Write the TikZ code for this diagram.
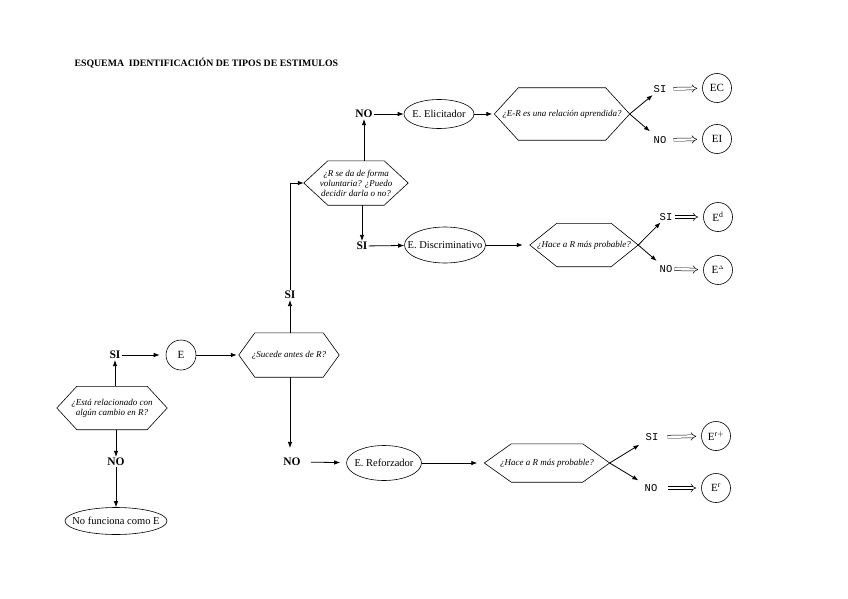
\documentclass[tikz,border=0pt]{standalone}
\usepackage{fontspec}
\setmainfont{Liberation Serif}
\setmonofont{Liberation Mono}
\usetikzlibrary{arrows.meta, positioning, calc, shapes.geometric}

\begin{document}
\begin{tikzpicture}[x=1pt, y=-1pt, font=\fontsize{9}{10}\selectfont,
  hex/.style={rectangle, inner sep=1pt, align=center, font=\fontsize{9}{10}\selectfont\itshape,
              append after command={\pgfextra{\draw[line width=0.6pt]
                (\tikzlastnode.west) -- ([xshift=#1]\tikzlastnode.north west)
                -- ([xshift=-#1]\tikzlastnode.north east) -- (\tikzlastnode.east)
                -- ([xshift=-#1]\tikzlastnode.south east) -- ([xshift=#1]\tikzlastnode.south west)
                -- cycle;}}},
  hex/.default=20pt,
  oval/.style={draw, line width=0.6pt, ellipse, inner xsep=-12pt, inner ysep=0pt, font=\fontsize{10.5}{11}\selectfont},
  circ/.style={draw, line width=0.6pt, circle, minimum size=29pt, inner sep=0pt, font=\fontsize{11}{12}\selectfont},
  big/.style={font=\fontsize{11.5}{12}\selectfont\bfseries, inner sep=1pt},
  sm/.style={font=\fontsize{10.5}{11}\selectfont\ttfamily, inner sep=1pt},
  a/.style={-{Latex[length=6pt, width=4.5pt]}, line width=0.8pt},
  dbl/.style={double, double distance=2.4pt, line width=0.5pt, -{Implies[length=5pt]}}]
  \useasboundingbox (0,0) rectangle (848,599);

  \node[anchor=west, font=\fontsize{9.8}{11}\selectfont\bfseries] (title) at (71,63)
        {ESQUEMA \ IDENTIFICACIÓN DE TIPOS DE ESTIMULOS};

  % first question
  \node[hex=20pt, minimum width=110pt, minimum height=43pt] (qrel) at (112,408)
        {¿Está relacionado con\\algún cambio en R?};
  \node[big] (siRel) at (115,355) {SI};
  \node[big] (noRel) at (116,462) {NO};
  \node[oval, minimum width=102pt, minimum height=27pt] (nofunc) at (116,521) {No funciona como E};
  \node[circ, minimum size=30pt] (estim) at (181,355) {E};

  \draw[a] (qrel.north -| siRel) -- (siRel.south);
  \draw[a] (qrel.south -| noRel) -- (noRel.north);
  \draw[a] (noRel) -- (nofunc);
  \draw[a, shorten >=6pt] (siRel) -- (estim);

  % before R?
  \node[hex=16pt, minimum width=100pt, minimum height=44pt] (qantes) at (289,355) {¿Sucede antes de R?};
  \node[big] (siAntes) at (290,295) {SI};
  \node[big] (noAntes) at (292,462) {NO};
  \draw[a, shorten >=2pt] (estim) -- (qantes);
  \draw[a] (qantes.north -| siAntes) -- (siAntes.south);
  \draw[a, shorten >=9pt] (qantes.south -| siAntes) -- (siAntes |- noAntes.north);

  % voluntary?
  \node[hex=24pt, minimum width=104pt, minimum height=44pt] (qvol) at (356,183)
        {¿R se da de forma\\voluntaria? ¿Puedo\\decidir darla o no?};
  \node[big] (noVol) at (364,114) {NO};
  \node[big] (siVol) at (362,246) {SI};
  \draw[a] (siAntes.north) |- (qvol.west);
  \draw[a] (qvol.north -| noVol) -- (noVol.south);
  \draw[a] (qvol.south -| siVol) -- (siVol.north);

  % elicitador branch
  \node[oval, minimum width=70pt, minimum height=29pt] (elic) at (439,114) {E. Elicitador};
  \node[hex=24pt, minimum width=135pt, minimum height=52pt] (qapr) at (562,114) {¿E-R es una relación aprendida?};
  \draw[a] (noVol) -- (elic);
  \draw[a, shorten >=2pt] (elic) -- (qapr);
  \node[sm] (siApr) at (660,89) {SI};
  \node[sm] (noApr) at (660,140) {NO};
  \node[circ] (EC) at (717,88) {EC};
  \node[circ] (EI) at (717,139) {EI};
  \draw[a, shorten >=2pt] (qapr.east) -- (siApr);
  \draw[a, shorten >=6pt] (qapr.east) -- (noApr);
  \draw[dbl, shorten <=6pt, shorten >=5pt] (siApr) -- (EC);
  \draw[dbl, shorten <=6pt, shorten >=5pt] (noApr) -- (EI);

  % discriminativo branch
  \node[oval, minimum width=81pt, minimum height=36pt] (discr) at (445,245) {E. Discriminativo};
  \node[hex=27pt, minimum width=108pt, minimum height=43pt] (qprobD) at (584,245) {¿Hace a R más probable?};
  \draw[a] (siVol) -- (discr);
  \draw[a, shorten >=7pt] (discr) -- (qprobD);
  \node[sm] (siD) at (666,217) {SI};
  \node[sm] (noD) at (666,269) {NO};
  \node[circ] (Ed) at (718,217) {E$^{\mathrm{d}}$};
  \node[circ] (Edelta) at (718,270) {E$^{\scriptscriptstyle\Delta}$};
  \draw[a, shorten >=1pt] (qprobD.east) -- (siD);
  \draw[a, shorten >=5pt] (qprobD.east) -- (noD);
  \draw[dbl, shorten <=1pt, shorten >=5pt] (siD) -- (Ed);
  \draw[dbl, shorten <=1pt, shorten >=5pt] (noD) -- (Edelta);

  % reforzador branch
  \node[oval, minimum width=75pt, minimum height=35pt] (refz) at (384,463) {E. Reforzador};
  \node[hex=27pt, minimum width=125pt, minimum height=38pt] (qprobR) at (547,463) {¿Hace a R más probable?};
  \draw[a, shorten <=9pt, shorten >=6pt] (noAntes) -- (refz);
  \draw[a, shorten >=7pt] (refz) -- (qprobR);
  \node[sm] (siR) at (652,437) {SI};
  \node[sm] (noR) at (651,488) {NO};
  \node[circ] (Erp) at (716,436) {E$^{\mathrm{r+}}$};
  \node[circ] (Erm) at (716,488) {E$^{\mathrm{r}}$};
  \draw[a, shorten >=6pt] (qprobR.east) -- (siR);
  \draw[a, shorten >=6pt] (qprobR.east) -- (noR);
  \draw[dbl, shorten <=8pt, shorten >=5pt] (siR) -- (Erp);
  \draw[dbl, shorten <=9pt, shorten >=5pt] (noR) -- (Erm);
\end{tikzpicture}
\end{document}
